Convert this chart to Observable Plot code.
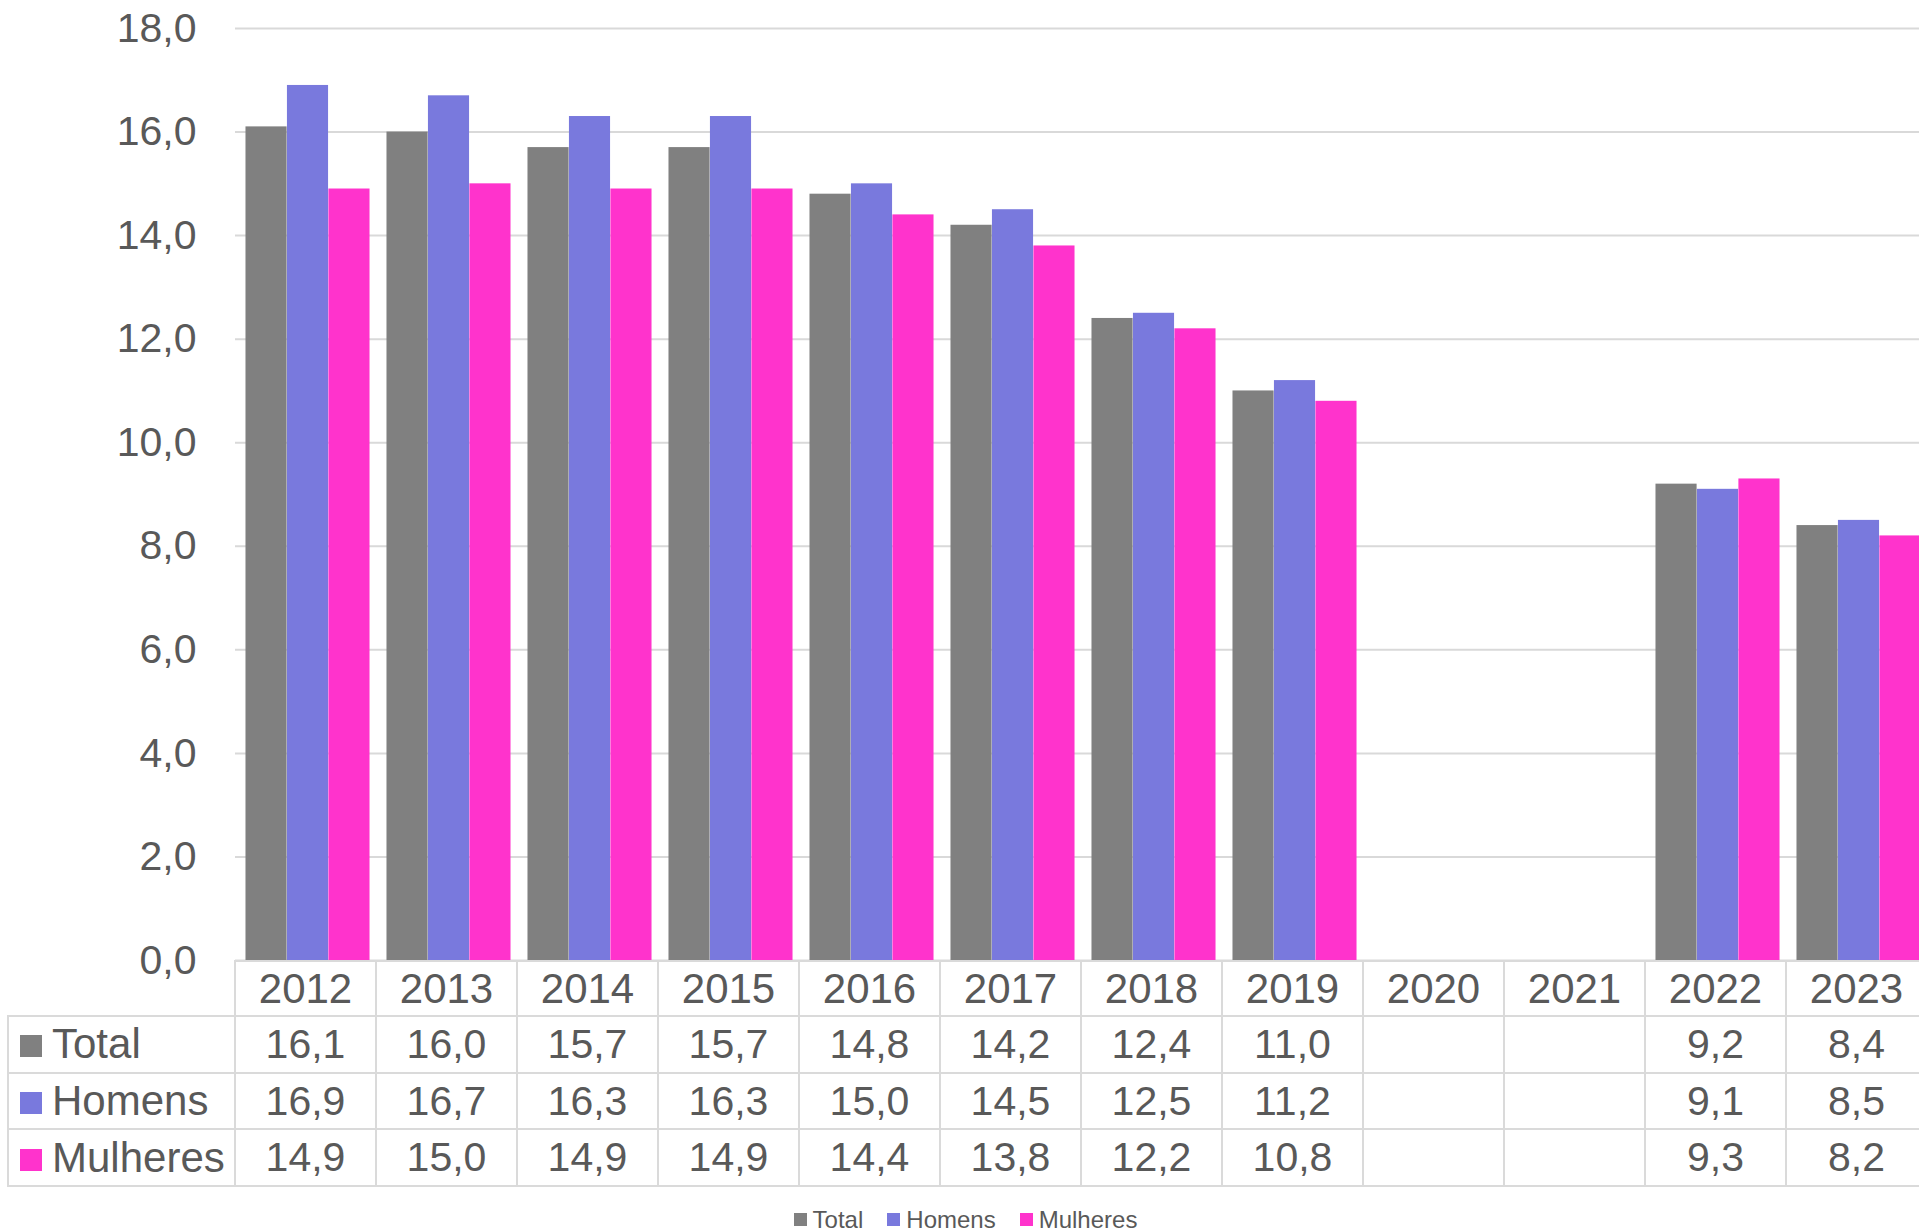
<!DOCTYPE html>
<html>
<head>
<meta charset="utf-8">
<script src="https://cdn.jsdelivr.net/npm/d3@7"></script>
<script src="https://cdn.jsdelivr.net/npm/@observablehq/plot@0.6"></script>
<style>
  html, body { margin: 0; padding: 0; background: #fff; overflow: hidden; }
  body { width: 1919px; height: 1230px; position: relative; overflow: hidden; font-family: "Liberation Sans", Arial, sans-serif; color: #595959; }
  #chart { position: absolute; left: 0; top: 0; width: 1931px; }
  #chart svg { max-width: none !important; }
  #table { position: absolute; top: 960px; border-collapse: collapse; table-layout: fixed; font-size: 41px; color: #595959; }
  #table td { border: 2px solid #DADADA; text-align: center; padding: 0; white-space: nowrap; }
  #table tr.head td { font-size: 42px; }
  #table td.corner { border-top: none; border-left: none; border-bottom: 2px solid #DADADA; }
  #table td.lab { text-align: left; padding-left: 11px; font-size: 42px; }
  #table .sw { display: inline-block; width: 22px; height: 22px; margin-right: 10px; vertical-align: 1px; }
  #legend { position: absolute; left: 6px; top: 1203px; width: 1919px; display: flex; justify-content: center; }
  #legend .lg-swatch svg { margin-right: 6px !important; }
  #legend .lg-swatch { margin-right: 24px !important; }
  #legend .lg-swatch:last-child { margin-right: 0 !important; }
</style>
</head>
<body>
<div id="chart"></div>
<table id="table"></table>
<div id="legend"></div>
<script>
const years = ["2012","2013","2014","2015","2016","2017","2018","2019","2020","2021","2022","2023"];
const series = ["Total","Homens","Mulheres"];
const total    = [16.1,16.0,15.7,15.7,14.8,14.2,12.4,11.0,null,null,9.2,8.4];
const homens   = [16.9,16.7,16.3,16.3,15.0,14.5,12.5,11.2,null,null,9.1,8.5];
const mulheres = [14.9,15.0,14.9,14.9,14.4,13.8,12.2,10.8,null,null,9.3,8.2];
const colors = ["#808080","#7979DD","#FF33CC"];
const yTicks = [0,2,4,6,8,10,12,14,16,18];

const values = [total, homens, mulheres];
const data = [];
series.forEach((s, i) => years.forEach((y, j) => data.push({year: y, series: s, value: values[i][j]})));

const fmt = v => v == null ? "" : v.toFixed(1).replace(".", ",");

// the chart is wider than the window: the last column is cut at the right edge
const W = 1931, ML = 235, MR = 0;
const step = (W - ML - MR) / years.length;
const outer = step * 0.06;
const bw = step * 0.88 / series.length;

const plot = Plot.plot({
  width: W,
  height: 961,
  marginTop: 28,
  marginBottom: 1,
  marginLeft: ML,
  marginRight: MR,
  style: {fontFamily: "'Liberation Sans', Arial, sans-serif", fontSize: "41px", color: "#595959", background: "transparent", overflow: "visible", maxWidth: "none"},
  x: {domain: years, padding: 0, axis: null},
  y: {domain: [0, 18], ticks: yTicks, tickFormat: fmt, tickSize: 0, tickPadding: 39, label: null},
  color: {domain: series, range: colors},
  marks: [
    Plot.ruleY(yTicks, {stroke: "#D9D9D9", strokeWidth: 2}),
    ...series.map((s, i) => Plot.barY(data.filter(d => d.series === s && d.value != null), {
      x: "year", y: "value", fill: "series",
      insetLeft: outer + i * bw,
      insetRight: step - outer - (i + 1) * bw
    }))
  ]
});
document.getElementById("chart").appendChild(plot);

// data table aligned with the x scale
const xs = plot.scale("x");
const colW = xs.step !== undefined ? xs.step : step;
const tbl = document.getElementById("table");
const labW = ML - 8;
tbl.style.left = "7px";
tbl.style.width = (labW + colW * years.length) + "px";
let html = "<colgroup><col style='width:" + labW + "px'>" + years.map(() => "<col style='width:" + colW + "px'>").join("") + "</colgroup>";
html += "<tr class='head' style='height:55px'><td class='corner'></td>" + years.map(y => "<td>" + y + "</td>").join("") + "</tr>";
series.forEach((s, i) => {
  html += "<tr style='height:56.7px'><td class='lab'><span class='sw' style='background:" + colors[i] + "'></span>" + s + "</td>" +
    values[i].map(v => "<td>" + fmt(v) + "</td>").join("") + "</tr>";
});
tbl.innerHTML = html;

// legend
const leg = plot.legend("color", {
  legend: "swatches",
  swatchSize: 13,
  className: "lg",
  style: {fontSize: "24px", fontFamily: "'Liberation Sans', Arial, sans-serif", color: "#595959", marginLeft: "0px"}
});
document.getElementById("legend").appendChild(leg);
</script>
</body>
</html>
